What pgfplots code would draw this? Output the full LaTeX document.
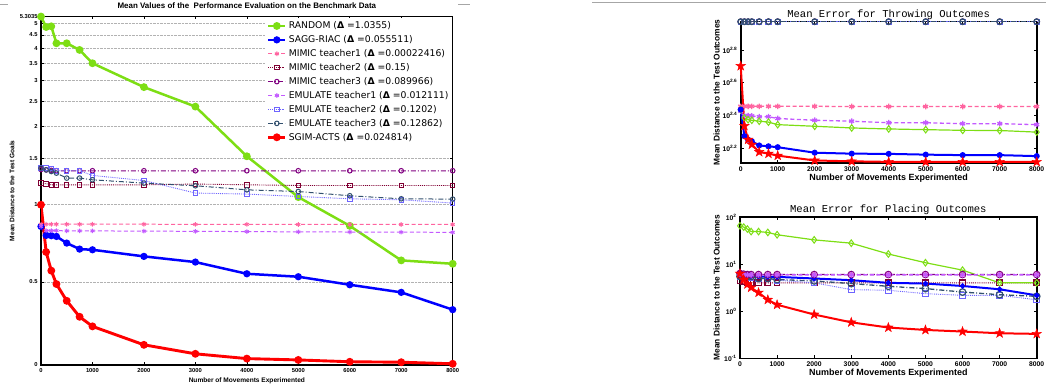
\documentclass[border=0pt]{standalone}
\usepackage{pgfplots}
\pgfplotsset{compat=1.18}
\usepackage{pgfplotstable}
\usepackage{fontspec}
\setmainfont{Liberation Sans}
\newfontfamily\legfont{DejaVu Sans}
\newfontfamily\monofont{Liberation Mono}
\usetikzlibrary{plotmarks}

\definecolor{crnd}{RGB}{125,222,20}
\definecolor{csagg}{RGB}{0,0,255}
\definecolor{cmone}{RGB}{255,100,160}
\definecolor{cmtwo}{RGB}{128,0,51}
\definecolor{cmthree}{RGB}{128,0,128}
\definecolor{ceone}{RGB}{195,90,255}
\definecolor{cetwo}{RGB}{110,100,255}
\definecolor{cethree}{RGB}{50,80,110}
\definecolor{csgim}{RGB}{255,0,0}

\pgfdeclareplotmark{fstar}{%
  \pgfpathmoveto{\pgfpointpolar{90}{\pgfplotmarksize}}%
  \pgfpathlineto{\pgfpointpolar{126}{0.4\pgfplotmarksize}}%
  \pgfpathlineto{\pgfpointpolar{162}{\pgfplotmarksize}}%
  \pgfpathlineto{\pgfpointpolar{198}{0.4\pgfplotmarksize}}%
  \pgfpathlineto{\pgfpointpolar{234}{\pgfplotmarksize}}%
  \pgfpathlineto{\pgfpointpolar{270}{0.4\pgfplotmarksize}}%
  \pgfpathlineto{\pgfpointpolar{306}{\pgfplotmarksize}}%
  \pgfpathlineto{\pgfpointpolar{342}{0.4\pgfplotmarksize}}%
  \pgfpathlineto{\pgfpointpolar{18}{\pgfplotmarksize}}%
  \pgfpathlineto{\pgfpointpolar{54}{0.4\pgfplotmarksize}}%
  \pgfpathclose
  \pgfusepathqfillstroke}

\pgfplotstableread{
x rnd sagg m1 m2 m3 e1 e2 e3 sgim
0 5.30 0.82 0.836 1.205 1.36 0.82 1.377 1.377 0.994
100 4.83 0.757 0.836 1.198 1.355 0.79 1.377 1.356 0.653
200 4.86 0.755 0.836 1.187 1.35 0.79 1.37 1.336 0.553
300 4.18 0.75 0.836 1.187 1.345 0.79 1.345 1.317 0.491
500 4.18 0.707 0.836 1.187 1.345 0.788 1.345 1.26 0.423
750 3.94 0.67 0.836 1.187 1.345 0.788 1.345 1.26 0.367
1000 3.50 0.666 0.836 1.187 1.345 0.788 1.29 1.241 0.337
2000 2.83 0.628 0.836 1.187 1.345 0.786 1.233 1.205 0.286
3000 2.38 0.597 0.835 1.195 1.345 0.785 1.103 1.177 0.264
4000 1.53 0.538 0.835 1.187 1.345 0.783 1.093 1.135 0.253
5000 1.064 0.524 0.834 1.18 1.345 0.781 1.07 1.118 0.25
6000 0.824 0.488 0.834 1.18 1.345 0.78 1.048 1.077 0.246
7000 0.606 0.456 0.834 1.18 1.345 0.779 1.039 1.048 0.245
8000 0.588 0.391 0.834 1.18 1.345 0.778 1.009 1.045 0.2416
}\lefttab

\pgfplotstableread{
x rnd sagg m1 m2 m3 e1 e2 e3 sgim
0 273 273 286 939 939 267 939 939 504
100 243 188 286 939 939 251 939 939 217
200 237 179 286 939 939 251 939 939 179
300 235 175 286 939 939 250 939 939 167
500 232 165 286 939 939 247 939 939 150.5
750 229 163 286 939 939 247 939 939 147
1000 221 161 286 939 939 241 939 939 143
2000 216 149 286 939 939 235 939 939 133.6
3000 211 147 285 939 939 232 939 939 132
4000 208 146.6 285 939 939 227 939 939 131
5000 206 145 285 939 939 227 939 939 131
6000 204 144 285 939 939 224 939 939 131
7000 203.5 144 285 939 939 224 939 939 131
8000 199 142 285 939 939 221 939 939 131
}\toptab

\pgfplotstableread{
x rnd sagg m1 m2 m3 e1 e2 e3 sgim
0 65 6.85 6.1 4.4 6.3 6.2 5.5 5.5 6.3
100 61 6.3 6.1 4.2 6.1 6.0 5.4 5.5 4.7
200 55.5 5.8 6.1 4.0 6.0 5.9 5.3 5.5 3.73
300 49 5.6 6.1 4.0 6.0 5.9 5.2 5.5 3.17
500 49 5.5 6.1 4.0 6.0 5.9 4.95 4.95 2.48
750 47 5.35 6.1 4.0 6.0 5.9 4.9 4.95 1.75
1000 42 5.35 6.1 4.0 6.0 5.9 4.55 4.7 1.37
2000 32.7 4.95 6.1 4.0 6.0 5.9 4.0 4.4 0.85
3000 27.8 4.55 6.1 4.0 6.0 5.9 2.87 3.86 0.58
4000 16.4 4.0 6.1 4.0 6.0 5.9 2.78 3.38 0.45
5000 10.7 3.86 6.1 4.0 6.0 5.9 2.36 3.02 0.40
6000 7.45 3.43 6.1 4.0 6.0 5.9 2.17 2.55 0.37
7000 4.0 2.92 6.1 4.0 6.0 5.9 2.17 2.24 0.34
8000 4.0 2.17 6.1 4.0 6.0 5.9 1.75 2.07 0.33
}\bottab

\pgfplotsset{
  panel/.style={
    scale only axis, anchor=south west,
    xmin=0, xmax=8000, xtick={0,1000,...,8000},
    xticklabel style={/pgf/number format/1000 sep={}},
    axis line style={line width=1.6bp},
    tick style={black, line width=0.6bp},
    major tick length=3bp,
    yminorticks=false,
  },
  sm1/.style={cmone, line width=1bp, dash pattern=on 4bp off 2.5bp, mark=asterisk, mark size=2.3bp, mark options={solid}},
  sm2/.style={cmtwo, line width=0.9bp, densely dotted, mark=square, mark size=2.2bp, mark options={solid}},
  sm3/.style={cmthree, line width=1bp, dash pattern=on 5bp off 2bp on 1bp off 2bp, mark=o, mark size=2.3bp, mark options={solid}},
  se1/.style={ceone, line width=1bp, dash pattern=on 4bp off 2.5bp, mark=asterisk, mark size=2.3bp, mark options={solid}},
  se2/.style={cetwo, line width=0.9bp, densely dotted, mark=square, mark size=2.2bp, mark options={solid}},
  se3/.style={cethree, line width=1bp, dash pattern=on 5bp off 2bp on 1bp off 2bp, mark=o, mark size=2.3bp, mark options={solid}},
}

\begin{document}
\begin{tikzpicture}
\path[use as bounding box] (0,0) rectangle (1046bp,387bp);
\draw[gray!70, line width=1bp] (0,382bp) -- (8bp,382bp);
\draw[gray!70, line width=1bp] (458bp,382bp) -- (470bp,382bp);
\draw[gray!70, line width=1bp] (592bp,384bp) -- (1046bp,384bp);

% ---------------- left panel
\begin{axis}[panel, ymode=log,
  /pgf/number format/assume math mode=true,
  at={(41bp,22bp)}, width=411.7bp, height=348.5bp,
  ymin=0.239, ymax=5.3035,
  ytick={0.239,0.5,1,1.5,2,2.5,3,3.5,4,4.5,5,5.3035},
  yticklabels={0,0.5,1,1.5,2,2.5,3,3.5,4,4.5,5,5.3035},
  ymajorgrids, major grid style={densely dotted, gray!60, line width=0.5bp},
  ticklabel style={font=\bfseries\fontsize{5.8}{6}\selectfont},
  title={Mean Values of the\ \ Performance Evaluation on the Benchmark Data},
  title style={font=\bfseries\fontsize{8}{9}\selectfont, at={(0.5,1)}, anchor=south, yshift=-2bp},
  xlabel={Number of Movements Experimented},
  xlabel style={font=\bfseries\fontsize{6.6}{7}\selectfont, at={(axis description cs:0.5,-0.046)}, anchor=center},
  ylabel={Mean Distance to the Test Goals},
  ylabel style={font=\bfseries\fontsize{6.6}{7}\selectfont, at={(axis description cs:-0.0704,0.5)}, anchor=center},
  legend style={at={(1,1)}, anchor=north east, draw=none, fill=white,
    font=\legfont\fontsize{9.3}{10}\selectfont, row sep=1.4bp,
    cells={anchor=west}, inner sep=2bp, yshift=-1bp},
]
\addplot[crnd, line width=2.5bp, mark=*, mark size=2.6bp] table[x=x,y=rnd]{\lefttab};
\addlegendentry{RANDOM (\textbf{Δ} =1.0355)}
\addplot[csagg, line width=2.5bp, mark=*, mark size=2.3bp] table[x=x,y=sagg]{\lefttab};
\addlegendentry{SAGG-RIAC (\textbf{Δ} =0.055511)}
\addplot[sm1] table[x=x,y=m1]{\lefttab};
\addlegendentry{MIMIC teacher1 (\textbf{Δ} =0.00022416)}
\addplot[sm2] table[x=x,y=m2]{\lefttab};
\addlegendentry{MIMIC teacher2 (\textbf{Δ} =0.15)}
\addplot[sm3] table[x=x,y=m3]{\lefttab};
\addlegendentry{MIMIC teacher3 (\textbf{Δ} =0.089966)}
\addplot[se1] table[x=x,y=e1]{\lefttab};
\addlegendentry{EMULATE teacher1 (\textbf{Δ} =0.012111)}
\addplot[se2] table[x=x,y=e2]{\lefttab};
\addlegendentry{EMULATE teacher2 (\textbf{Δ} =0.1202)}
\addplot[se3] table[x=x,y=e3]{\lefttab};
\addlegendentry{EMULATE teacher3 (\textbf{Δ} =0.12862)}
\addplot[csgim, line width=2.9bp, mark=*, mark size=2.4bp] table[x=x,y=sgim]{\lefttab};
\addlegendentry{SGIM-ACTS (\textbf{Δ} =0.024814)}
\end{axis}

% ---------------- right top panel
\begin{axis}[panel, ymode=log,
  /pgf/number format/assume math mode=true,
  at={(740.7bp,223.7bp)}, width=296bp, height=141.6bp,
  ymin=128.4, ymax=939, clip=false,
  ytick={158.49,251.19,398.11,630.96},
  yticklabels={10\textsuperscript{2.2},10\textsuperscript{2.4},10\textsuperscript{2.6},10\textsuperscript{2.8}},
  ticklabel style={font=\bfseries\fontsize{6.8}{7}\selectfont},
  title={Mean Error for Throwing Outcomes},
  title style={font=\monofont\fontsize{10.6}{11}\selectfont, at={(0.5,1)}, anchor=south, yshift=-7.5bp},
  xlabel={Number of Movements Experimented},
  xlabel style={font=\bfseries\fontsize{9}{10}\selectfont, at={(axis description cs:0.5,-0.102)}, anchor=center},
  ylabel={Mean Distance to the Test Outcomes},
  ylabel style={font=\bfseries\fontsize{8.4}{9}\selectfont, at={(axis description cs:-0.081,0.5)}, anchor=center},
]
\addplot[sm2, mark size=2.6bp] table[x=x,y=m2]{\toptab};
\addplot[sm3, mark size=2.8bp] table[x=x,y=m3]{\toptab};
\addplot[se2, mark size=2.6bp] table[x=x,y=e2]{\toptab};
\addplot[se3, line width=1.3bp, mark size=2.8bp] table[x=x,y=e3]{\toptab};
\addplot[sm1, line width=1.3bp, mark size=2.8bp] table[x=x,y=m1]{\toptab};
\addplot[se1, line width=1.3bp, mark size=2.8bp] table[x=x,y=e1]{\toptab};
\addplot[crnd, line width=1.2bp, mark=diamond, mark size=3.3bp, mark options={line width=1bp}] table[x=x,y=rnd]{\toptab};
\addplot[csagg, line width=2bp, mark=*, mark size=2bp] table[x=x,y=sagg]{\toptab};
\addplot[csgim, line width=2bp, mark=fstar, mark size=5bp, mark options={fill=csgim, line width=0.4bp}] table[x=x,y=sgim]{\toptab};
\end{axis}

% ---------------- right bottom panel
\begin{axis}[panel, ymode=log,
  /pgf/number format/assume math mode=true,
  at={(740bp,28.7bp)}, width=296.7bp, height=141.3bp,
  ymin=0.1, ymax=100,
  ytick={0.1,1,10,100},
  yticklabels={10\textsuperscript{-1},10\textsuperscript{0},10\textsuperscript{1},10\textsuperscript{2}},
  ticklabel style={font=\bfseries\fontsize{6.8}{7}\selectfont},
  title={Mean Error for Placing Outcomes},
  title style={font=\monofont\fontsize{10.6}{11}\selectfont, at={(0.5,1)}, anchor=south, yshift=-7.5bp},
  xlabel={Number of Movements Experimented},
  xlabel style={font=\bfseries\fontsize{9}{10}\selectfont, at={(axis description cs:0.5,-0.106)}, anchor=center},
  ylabel={Mean Distance to the Test Outcomes},
  ylabel style={font=\bfseries\fontsize{8.4}{9}\selectfont, at={(axis description cs:-0.0785,0.5)}, anchor=center},
]
\addplot[sm2, mark size=2.8bp, mark options={solid, line width=1.2bp}] table[x=x,y=m2]{\bottab};
\addplot[se2, mark size=2.8bp, mark options={solid, line width=1bp}] table[x=x,y=e2]{\bottab};
\addplot[se3, line width=1.3bp, mark size=3.3bp, mark options={solid, line width=1.2bp}] table[x=x,y=e3]{\bottab};
\addplot[crnd, line width=1.2bp, mark=diamond, mark size=3.3bp, mark options={line width=1bp}] table[x=x,y=rnd]{\bottab};
\addplot[csagg, line width=2bp, mark=*, mark size=1.6bp] table[x=x,y=sagg]{\bottab};
\addplot[sm1, line width=1.3bp, mark size=2.8bp] table[x=x,y=m1]{\bottab};
\addplot[sm3, line width=1.2bp, mark size=3.3bp, mark options={solid, fill=ceone!60, line width=1bp}] table[x=x,y=m3]{\bottab};
\addplot[se1, line width=1.3bp, mark size=2.8bp] table[x=x,y=e1]{\bottab};
\addplot[csgim, line width=2bp, mark=fstar, mark size=5bp, mark options={fill=csgim, line width=0.4bp}] table[x=x,y=sgim]{\bottab};
\end{axis}
\end{tikzpicture}
\end{document}
